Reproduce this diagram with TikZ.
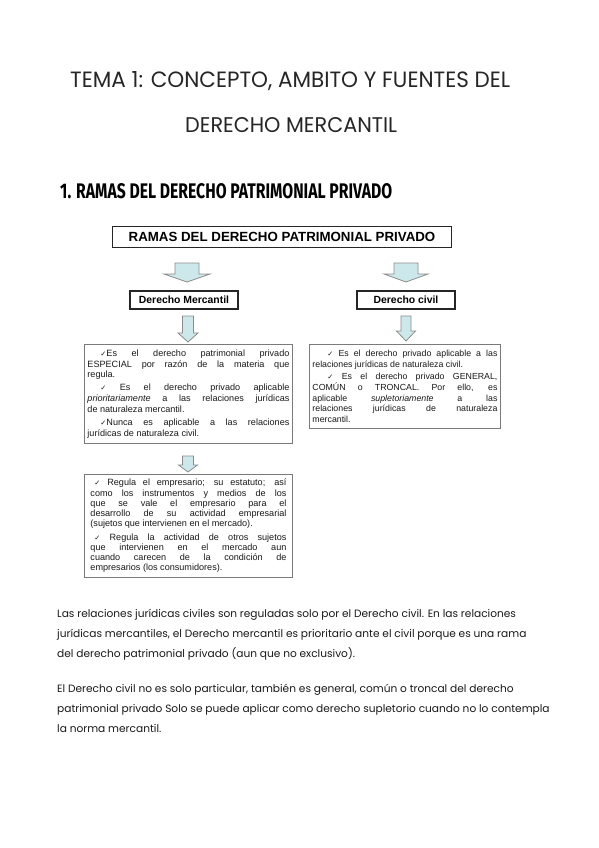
\documentclass[tikz,border=0pt]{standalone}
\usepackage{fontspec}
\setmainfont{Liberation Sans}
\newfontfamily\handfont{Poppins}
\newfontfamily\headfont{Fira Sans}
\newfontfamily\symfont{DejaVu Sans}
\usetikzlibrary{positioning}

\definecolor{arrowblue}{HTML}{CDE8EB}
\definecolor{boxgray}{HTML}{7A7A7A}

% small check mark used in the boxes
\newcommand{\chk}{{\symfont\fontsize{7.2}{7.2}\selectfont ✓}}
% block arrow: x, top, head start, tip, half body, half head
\newcommand{\flecha}[6]{%
  \draw[bigarrow] (#1-#5,#2) -- (#1+#5,#2) -- (#1+#5,#3) -- (#1+#6,#3)
    -- (#1,#4) -- (#1-#6,#3) -- (#1-#5,#3) -- cycle;}

\tikzset{
  titletext/.style={inner sep=0pt, anchor=base west, text=black!85},
  titlebox/.style={draw=black!85, line width=1.8pt, minimum width=339pt,
    minimum height=21pt, inner sep=0pt, font=\fontsize{13.3}{15}\selectfont\bfseries},
  branch/.style={draw=black!85, line width=1.3pt, minimum height=18pt,
    inner sep=0pt, font=\fontsize{10.4}{12}\selectfont\bfseries},
  infobox/.style={draw=boxgray, line width=0.9pt, anchor=north west,
    align=justify, inner ysep=4pt, text=black!90,
    font=\fontsize{9.1}{10.9}\selectfont},
  bigarrow/.style={draw=black!45, fill=arrowblue, line width=0.8pt},
  bodytext/.style={inner sep=0pt, anchor=base west, align=left,
    font=\handfont\fontsize{10.6}{20}\selectfont, text=black!90}
}

\begin{document}
\begin{tikzpicture}[x=1pt,y=-1pt]
\useasboundingbox[fill=white] (0,0) rectangle (599,848);

% headings
\node[titletext] (tema) at (70,88)
  {\resizebox{440pt}{16pt}{\handfont TEMA 1: CONCEPTO, AMBITO Y FUENTES DEL}};
\node[titletext] (tema2) at (185,133)
  {\resizebox{212pt}{15pt}{\handfont DERECHO MERCANTIL}};
\node[titletext, text=black] (seccion) at (60,198)
  {\resizebox{332pt}{15pt}{\headfont\bfseries 1. RAMAS DEL DERECHO PATRIMONIAL PRIVADO}};

% scheme
\node[titlebox] (ramas) at (282,237) {RAMAS DEL DERECHO PATRIMONIAL PRIVADO};
\node[branch, minimum width=108pt] (mercantil) at (184,300) {Derecho Mercantil};
\node[branch, minimum width=98pt] (civil) at (406,300) {Derecho civil};

\flecha{187}{263}{274}{282}{12}{23}
\flecha{406}{263}{274}{282}{12}{22}
\flecha{188}{316}{333}{342}{5.5}{10}
\flecha{406}{316}{331}{341}{5}{9.5}
\flecha{188}{456}{465}{472}{5.5}{9.5}

\node[infobox, text width=202pt, inner xsep=3pt, minimum height=99pt] (mercA) at (84,344) {%
\hspace*{13pt}\chk Es el derecho patrimonial privado\linebreak
ESPECIAL por razón de la materia que\linebreak regula.\par\vspace{2pt}
\hspace*{13pt}\chk\ Es el derecho privado aplicable\linebreak
\textit{prioritariamente} a las relaciones jurídicas\linebreak
de naturaleza mercantil.\par\vspace{2pt}
\hspace*{13pt}\chk Nunca es aplicable a las relaciones\linebreak
jurídicas de naturaleza civil.};

\node[infobox, text width=185pt, inner xsep=3pt, minimum height=84pt,
  font=\fontsize{8.8}{10.8}\selectfont] (civilA) at (309,344) {%
\hspace*{15pt}\chk\ Es el derecho privado aplicable a las\linebreak
relaciones jurídicas de naturaleza civil.\par\vspace{1.5pt}
\hspace*{15pt}\chk\ Es el derecho privado GENERAL,\linebreak
COMÚN o TRONCAL. Por ello, es\linebreak
aplicable \textit{supletoriamente} a las\linebreak
relaciones jurídicas de naturaleza\linebreak
mercantil.};

\node[infobox, text width=196pt, inner xsep=6pt, minimum height=103pt,
  font=\fontsize{9.1}{10.1}\selectfont] (mercB) at (84,474) {%
\hspace*{4pt}\chk\ Regula el empresario; su estatuto; así\linebreak
como los instrumentos y medios de los\linebreak
que se vale el empresario para el\linebreak
desarrollo de su actividad empresarial\linebreak
(sujetos que intervienen en el mercado).\par\vspace{4pt}
\hspace*{4pt}\chk\ Regula la actividad de otros sujetos\linebreak
que intervienen en el mercado aun\linebreak
cuando carecen de la condición de\linebreak
empresarios (los consumidores).};

% notes (anchored at the baseline of their last line)
\node[bodytext] (nota1) at (57,657) {Las relaciones jurídicas civiles son reguladas solo por el Derecho civil. En las relaciones\\
jurídicas mercantiles, el Derecho mercantil es prioritario ante el civil porque es una rama\\
del derecho patrimonial privado (aun que no exclusivo).};
\node[bodytext] (nota2) at (57,732) {El Derecho civil no es solo particular, también es general, común o troncal del derecho\\
patrimonial privado Solo se puede aplicar como derecho supletorio cuando no lo contempla\\
la norma mercantil.};
\end{tikzpicture}
\end{document}
